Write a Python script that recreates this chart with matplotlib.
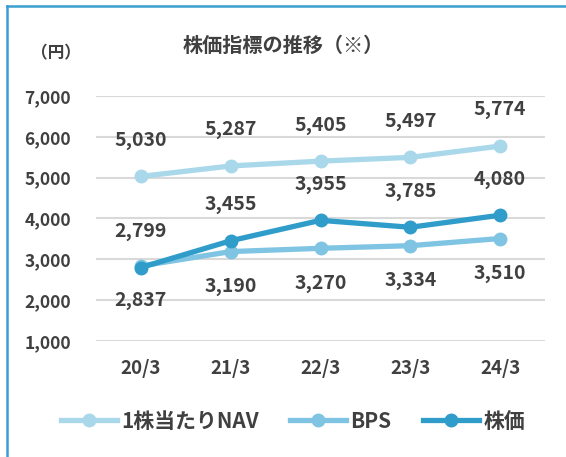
import numpy as np
import matplotlib.pyplot as plt
from matplotlib.lines import Line2D

plt.rcParams['font.family'] = ['Noto Sans CJK JP', 'DejaVu Sans']

years = ["20/3", "21/3", "22/3", "23/3", "24/3"]
nav = [5030, 5287, 5405, 5497, 5774]
bps = [2837, 3190, 3270, 3334, 3510]
price = [2799, 3455, 3955, 3785, 4080]

c_nav = "#a9d8ea"
c_bps = "#7fc4e2"
c_price = "#2f9cca"
c_text = "#404040"
wt = "bold"

fig = plt.figure(figsize=(5.66, 4.57), dpi=100)
ax = fig.add_axes([96 / 566, 1 - 341 / 457, 449 / 566, 245 / 457])

x = np.arange(len(years))
ax.plot(x, nav, "-o", color=c_nav, lw=3.8, ms=9, zorder=3)
ax.plot(x, bps, "-o", color=c_bps, lw=3.8, ms=9, zorder=4)
ax.plot(x, price, "-o", color=c_price, lw=3.8, ms=9, zorder=5)

def label(vals, dy):
    for xi, v in zip(x, vals):
        ax.annotate(f"{v:,}", (xi, v), xytext=(0, dy), textcoords="offset points",
                    ha="center", va="center", fontsize=14, fontweight=wt,
                    color=c_text)

label(nav, 26)
label(price, 26)
label(bps, -25)

ax.set_xlim(-0.5, len(years) - 0.5)
ax.set_ylim(1000, 7000)
ax.set_yticks(range(1000, 7001, 1000))
ax.set_yticklabels([f"{v:,}" for v in range(1000, 7001, 1000)])
ax.set_xticks(x)
ax.set_xticklabels(years)
for s in ax.spines.values():
    s.set_visible(False)
ax.tick_params(length=0, colors=c_text, labelsize=12.5)
ax.tick_params(axis="y", pad=18)
ax.tick_params(axis="x", pad=13, labelsize=13.5)
for t in ax.get_xticklabels() + ax.get_yticklabels():
    t.set_fontweight(wt)
ax.grid(axis="y", color="#d9d9d9", lw=1.5)
ax.set_axisbelow(True)

fig.text(283 / 566, 1 - 45 / 457, "株価指標の推移（※）", ha="center", va="center",
         fontsize=14.5, fontweight=wt, color=c_text)
fig.text(56 / 566, 1 - 53 / 457, "（円）", ha="center", va="center",
         fontsize=12, fontweight=wt, color=c_text)

handles = [Line2D([], [], color=c, lw=3.8, marker="o", ms=9) for c in (c_nav, c_bps, c_price)]
fig.legend(handles, ["1株当たりNAV", "BPS", "株価"], loc="center",
           bbox_to_anchor=(293 / 566, 1 - 421 / 457), ncol=3, frameon=False,
           handlelength=2.7, handletextpad=0.2, columnspacing=1.5,
           prop={"size": 15, "weight": wt}, labelcolor=c_text)

# panel border (left and top)
fig.add_artist(Line2D([7 / 566, 7 / 566], [0, 1 - 6 / 457], color="#3a9fd0", lw=1.8))
fig.add_artist(Line2D([7 / 566, 1], [1 - 6 / 457, 1 - 6 / 457], color="#3a9fd0", lw=1.8))

fig.savefig("out.png", dpi=100)
